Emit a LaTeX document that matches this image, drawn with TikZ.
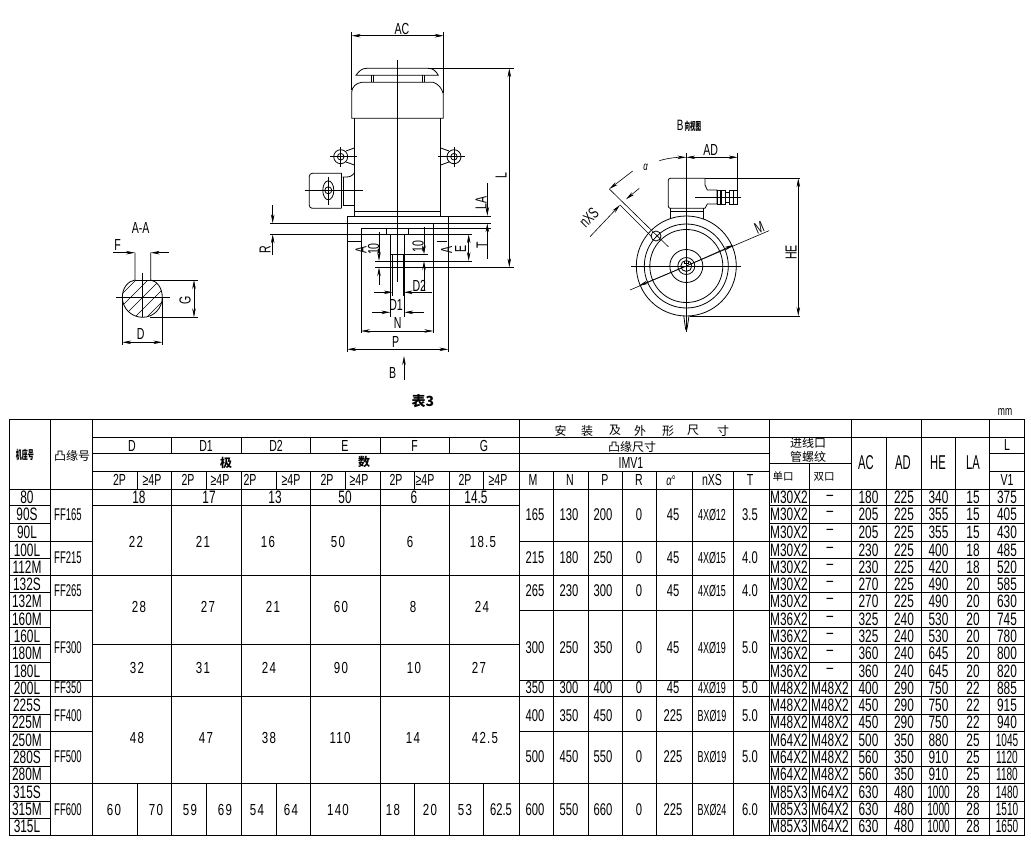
\documentclass[tikz,border=0pt]{standalone}
\usepackage{fontspec}
\usetikzlibrary{arrows.meta}
\newfontfamily\cadfont[FakeStretch=0.66]{Liberation Sans}
\newfontfamily\cadnarrow[FakeStretch=0.56]{Liberation Sans}
\newfontfamily\cadwide[FakeStretch=0.72,LetterSpace=8]{Liberation Sans}
\newfontfamily\cjkfont{Noto Sans CJK SC}
\newfontfamily\cjkthin[FakeStretch=0.5]{Noto Sans CJK SC}
\tikzset{
  ln/.style = {line width=0.8pt},
  thin ln/.style = {line width=0.6pt},
  dim/.style = {line width=0.6pt, {Stealth[length=9pt,width=3.5pt]}-{Stealth[length=9pt,width=3.5pt]}},
  tip/.style = {line width=0.6pt, -{Stealth[length=9pt,width=3.5pt]}},
  tall/.style = {inner sep=0pt, font=\cadfont\fontsize{18}{18}\selectfont},
  mid/.style = {inner sep=0pt, font=\cadfont\fontsize{17}{17}\selectfont},
  flange/.style = {inner sep=0pt, font=\cadnarrow\fontsize{17}{17}\selectfont},
  holes/.style = {inner sep=0pt, font=\cadnarrow\fontsize{16}{16}\selectfont},
  big/.style = {inner sep=0pt, font=\cadwide\fontsize{16}{16}\selectfont},
  lab/.style = {inner sep=0pt, font=\cadfont\fontsize{16}{16}\selectfont},
  cjk/.style = {inner sep=0pt, font=\cjkfont\fontsize{12}{12}\selectfont},
  squeezed/.style = {inner sep=0pt, font=\cjkthin\bfseries\fontsize{12}{12}\selectfont},
}
\begin{document}
\begin{tikzpicture}[x=1pt,y=-1pt]
  \fill[white] (0,0) rectangle (1031,843);
  \useasboundingbox (0,0) rectangle (1031,843);

  % section A-A
  \node[lab] (secttl) at (140.7,228) {A-A};
  \begin{scope}
    \clip (135,280) .. controls (128,281) and (122.3,288) .. (122.3,297.3) .. controls (122.3,308) and (131,317.3) .. (142.7,317.3) .. controls (154,317.3) and (162.3,308) .. (162.3,297.3) .. controls (162.3,288) and (157,281) .. (150.7,280) -- cycle;
    \foreach \s in {416,428,...,476}
      \draw[thin ln] (\s-330,330) -- (\s-270,270);
  \end{scope}
  \draw[ln] (135,252.7) -- (135,280) .. controls (128,281) and (122.3,288) .. (122.3,297.3) .. controls (122.3,308) and (131,317.3) .. (142.7,317.3) .. controls (154,317.3) and (162.3,308) .. (162.3,297.3) .. controls (162.3,288) and (157,281) .. (150.7,280) -- (150.7,252.7);
  \draw[ln] (135,280) -- (150.7,280);
  \draw[thin ln] (116,297.3) -- (170,297.3);
  \draw[thin ln] (142.7,273.3) -- (142.7,317.3);
  \draw[tip] (113.3,252.7) -- (135,252.7);
  \draw[tip] (169,252.7) -- (150.7,252.7);
  \node[lab] (secf) at (117.7,245) {F};
  \draw[thin ln] (150,280) -- (198.3,280);
  \draw[thin ln] (150,317.3) -- (198.3,317.3);
  \draw[dim] (194,280) -- (194,317.3);
  \node[lab,rotate=90] (secg) at (185,300) {G};
  \draw[thin ln] (122.3,297.3) -- (122.3,345);
  \draw[thin ln] (162.3,297.3) -- (162.3,345);
  \draw[dim] (122.3,342.3) -- (162.3,342.3);
  \node[lab] (secd) at (140.7,334) {D};

  % front view: fan cap and frame
  \draw[thin ln] (351.7,32) -- (351.7,90);
  \draw[thin ln] (443.7,32) -- (443.7,93);
  \draw[dim] (351.7,35.7) -- (443.7,35.7);
  \node[lab] (acfront) at (402,29) {AC};
  \draw[thin ln] (397.3,60) -- (397.3,281.7);
  \draw[ln] (356,75.3) .. controls (359,71) and (362,68.3) .. (366.7,68.3) -- (428.3,68.3) .. controls (433,68.3) and (436,71) .. (438.3,75.3) -- cycle;
  \draw[ln] (371,75.3) -- (371,82.3) (373.3,75.3) -- (373.3,82.3);
  \draw[ln] (422.3,75.3) -- (422.3,82.3) (424.7,75.3) -- (424.7,82.3);
  \draw[ln] (351.7,118.3) -- (351.7,92) .. controls (352,87) and (356,83) .. (361.7,82.3) -- (433.3,82.3) .. controls (438,84) and (442,88) .. (443.3,94) -- (443.3,118.3) -- cycle;
  \draw[ln] (354.3,118.3) -- (354.3,216);
  \draw[ln] (440.7,118.3) -- (440.7,216);
  \draw[ln] (354.3,211.7) -- (440.7,211.7);

  % front view: lifting eyes
  \foreach \ex/\ea/\eb in {340.7/330/356.7, 454/438/465} {
    \draw[ln] (\ex,156.7) circle[radius=7];
    \draw[ln] (\ex,156.7) circle[radius=3.3];
    \draw[thin ln] (\ea,156.7) -- (\eb,156.7);
    \draw[thin ln] (\ex,147) -- (\ex,166.7);
  }
  \draw[ln] (346,151) -- (354.3,148) (346,162) -- (354.3,165);
  \draw[ln] (449,151) -- (440.7,148) (449,162) -- (440.7,165);

  % front view: terminal box
  \draw[ln,rounded corners=3pt] (341.7,173.3) -- (309.3,173.3) -- (309.3,208.3) -- (341.7,208.3);
  \draw[ln] (341.7,173.3) -- (341.7,208.3);
  \draw[ln] (342.7,177) -- (346,177) .. controls (350,177) and (352,176) .. (354.3,173);
  \draw[ln] (342.7,205) -- (354.3,205);
  \draw[ln] (343.5,177) -- (343.5,205);
  \draw[thin ln] (305,190.3) -- (363.3,190.3);
  \draw[thin ln] (328.3,176.7) -- (328.3,205);
  \draw[ln] (328.3,190.3) ellipse[x radius=5.5, y radius=9.5];
  \draw[ln] (328.3,190.3) circle[radius=3.5];

  % front view: flange and shaft
  \draw[ln] (347.3,216) -- (490.7,216);
  \draw[ln] (347.3,216) -- (347.3,351.7);
  \draw[ln] (448.3,216) -- (448.3,351.7);
  \draw[ln] (270,223.3) -- (490.7,223.3);
  \draw[ln] (361,228.3) -- (490.7,228.3);
  \draw[ln] (270,234.3) -- (471.7,234.3);
  \draw[ln] (347.3,241.7) -- (361,241.7);
  \draw[ln] (436.7,241.7) -- (446.7,241.7);
  \draw[ln] (361,228.3) -- (361,333);
  \draw[ln] (433.3,223.3) -- (433.3,333);
  \draw[ln] (386,228.3) -- (386,234.3) (408.3,228.3) -- (408.3,234.3);
  \draw[ln] (390.3,234.3) -- (390.3,316.7);
  \draw[ln] (404.3,234.3) -- (404.3,316.7);
  \draw[ln] (390.3,254.3) -- (427.7,254.3);
  \draw[ln] (392.7,254.3) -- (392.7,296);
  \draw[line width=1.2pt] (403.3,254.3) -- (403.3,296);
  \draw[ln] (375,261) -- (471.7,261);
  \draw[ln] (375,267.3) -- (514,267.3);

  % front view: dimensions
  \draw[thin ln] (428.3,68.3) -- (514,68.3);
  \draw[dim] (509.3,68.3) -- (509.3,267.3);
  \node[lab,rotate=90] (lfront) at (501,176) {L};
  \draw[tip] (487.3,183) -- (487.3,216);
  \draw[tip] (487.3,259) -- (487.3,223.3);
  \node[lab,rotate=90] (lafront) at (481,203) {LA};
  \node[lab,rotate=90] (tfront) at (482,245) {T};
  \draw[tip] (272.7,205) -- (272.7,223.3);
  \draw[tip] (272.7,255) -- (272.7,234.3);
  \node[lab,rotate=90] (rfront) at (265,250) {R};
  \node[lab,rotate=90] (asecl) at (361,250) {A};
  \node[lab,rotate=90] (asecr) at (446.7,250) {A};
  \draw[tip] (379,231.7) -- (379,261);
  \draw[tip] (379,285) -- (379,267.3);
  \node[lab,rotate=90] (tenl) at (373.5,249) {10};
  \draw[tip] (424,226.7) -- (424,254.3);
  \draw[tip] (424,290) -- (424,261);
  \node[lab,rotate=90] (tenr) at (418,246.7) {10};
  \draw[dim] (468.7,234.3) -- (468.7,261);
  \node[lab,rotate=90] (efront) at (460.7,249.3) {E};
  \draw[tip] (374,292.3) -- (392.7,292.3);
  \draw[tip] (431.7,292.3) -- (403.7,292.3);
  \node[lab] (dtwo) at (419.3,285.7) {D2};
  \draw[tip] (372,312.3) -- (390.3,312.3);
  \draw[tip] (423.7,312.3) -- (404.3,312.3);
  \node[lab] (done) at (396,305) {D1};
  \draw[dim] (361,331) -- (433.3,331);
  \node[lab] (nfront) at (397.7,323.3) {N};
  \draw[dim] (347.3,349.3) -- (448.3,349.3);
  \node[lab] (pfront) at (395.7,341.7) {P};
  \draw[tip] (404,380) -- (404,356);
  \node[lab] (bfront) at (392.7,373.3) {B};
  \node[cjk,font=\cjkfont\bfseries\fontsize{14}{14}\selectfont] (tabttl) at (423,400.7) {表3};

  % view B
  \node[inner sep=0pt] (bview) at (689,125.7) {\cadfont\fontsize{15}{15}\selectfont B\hspace{1pt}\cjkthin\bfseries\fontsize{11}{11}\selectfont 向视图};
  \foreach \r in {50,42,36.5,16.5,8.5,5.5}
    \draw[ln] (686.3,266) circle[radius=\r];
  \draw[ln] (684,260.5) -- (684,263) -- (688.6,263) -- (688.6,260.5);
  \draw[thin ln] (686.3,153.3) -- (686.3,331.7);
  \draw[thin ln] (631,266) -- (741,266);
  \draw[ln] (683.8,316) -- (685.3,327) .. controls (685.7,331) and (686.9,331) .. (687.3,327) -- (689,316);
  \draw[ln,rounded corners=2pt] (705,178.3) -- (668.3,178.3) -- (668.3,208.3) -- (705,208.3);
  \draw[ln] (705,178.3) -- (705,185) -- (707.3,190) -- (717,190) -- (717,204) -- (707.3,204) -- (705,208.3);
  \draw[ln] (670,208.3) -- (670,219) (703.3,208.3) -- (703.3,219);
  \draw[ln] (670,211) -- (703.3,211);
  \foreach \gx/\gw in {717/3.7,721/4.3,729/4,733/4.5}
    \draw[thin ln] (\gx,190) rectangle ++(\gw,14);
  \draw[thin ln] (725.3,192) -- (729,192) (725.3,202) -- (729,202);
  \draw[thin ln] (695,197.3) -- (740.7,197.3);
  \draw[thin ln] (705,178.3) -- (800,178.3);
  \draw[thin ln] (690,316) -- (800,316);
  \draw[dim] (798.3,178.3) -- (798.3,316);
  \node[lab,rotate=90] (heview) at (791,252.3) {HE};
  \draw[thin ln] (737.7,152.7) -- (737.7,197);
  \draw[dim] (686.3,157.3) -- (737.7,157.3);
  \node[lab] (adview) at (710.7,150) {AD};
  \draw[tip] (659.3,160.7) .. controls (668,158) and (677,157.3) .. (686.3,157.3);
  \node[inner sep=0pt,font=\cadfont\fontsize{12}{12}\selectfont\itshape] (alview) at (645.7,167.3) {α};
  \draw[thin ln] (630,290) -- (769,230.7);
  \draw[tip] (686.3,266) -- (733.3,245);
  \draw[tip] (686.3,266) -- (639,285.7);
  \node[lab,rotate=23] (mview) at (759.3,227.3) {M};
  \draw[ln] (656,236) circle[radius=5];
  \draw[thin ln] (609.3,189) -- (668.3,246.7);
  \draw[thin ln] (620,205) -- (652,237);
  \draw[tip] (590,236.7) -- (620,205);
  \draw[tip] (639.3,188.3) -- (626,199.3);
  \draw[tip] (632.7,171) -- (609.3,189);
  \node[lab,rotate=45] (nxsview) at (589,218) {nXS};

  % table grid
  \draw[ln] (9.5,419.5) rectangle (1024.5,835);
  \draw[ln] (92.5,437.5) -- (1024.5,437.5);
  \draw[ln] (92.5,453.5) -- (769,453.5) (989.7,453.5) -- (1024.5,453.5);
  \draw[ln] (92.5,471.5) -- (769,471.5) (989.7,471.5) -- (1024.5,471.5);
  \draw[ln] (769,463.3) -- (851.3,463.3);
  \draw[ln] (9.5,489) -- (1024.5,489);
  \foreach \y in {505.5,523,541,558.5,575.5,592.5,610,627.5,644.5,662,680,696,714,731,749,766,783,801,818} {
    \draw[ln] (9.5,\y) -- (50.5,\y);
    \draw[ln] (769,\y) -- (1024.5,\y);
  }
  \foreach \y in {541,575.5,610,680,696,731,783}
    \draw[ln] (50.5,\y) -- (92.5,\y);
  \foreach \y in {505.5,575.5,644.5,696,783}
    \draw[ln] (92.5,\y) -- (519.3,\y);
  \foreach \y in {541,575.5,610,680,696,731,783}
    \draw[ln] (519.3,\y) -- (769,\y);
  \foreach \x in {50.5,92.5,519.3,769,851.3,921.3,989.7}
    \draw[ln] (\x,419.5) -- (\x,835);
  \foreach \x in {886.3,955.7}
    \draw[ln] (\x,437.5) -- (\x,835);
  \draw[ln] (809.3,463.3) -- (809.3,835);
  \foreach \x in {171.5,241.5,310.7,380.3,449.3} {
    \draw[ln] (\x,437.5) -- (\x,453.5);
    \draw[ln] (\x,471.5) -- (\x,835);
  }
  \foreach \x in {137.5,206.5,276.5,345,414.5,483.3}
    \draw[ln] (\x,471.5) -- (\x,489);
  \foreach \x in {137.5,206.5,276.5,414.5,483.3}
    \draw[ln] (\x,783) -- (\x,835);
  \foreach \x in {553.3,588.3,622.3,656.3,692.7,733.7}
    \draw[ln] (\x,471.5) -- (\x,835);

  % table header
  \node[cjk,font=\cadfont\fontsize{13}{13}\selectfont] (unit) at (1005,412) {mm};
  \node[squeezed] (hframe) at (25,455) {机座号};
  \node[cjk] (hflange) at (72,456) {凸缘号};
  \foreach \x/\t in {132/D,206/D1,276/D2,345/E,414.5/F,484/G}
    \node[lab] (h\t) at (\x,445.5) {\t};
  \node[cjk,font=\cjkfont\bfseries\fontsize{12}{12}\selectfont] (hji) at (226,463) {极};
  \node[cjk,font=\cjkfont\bfseries\fontsize{12}{12}\selectfont] (hshu) at (364,462) {数};
  \foreach \x/\t [count=\i] in {119.5/2P,152/≥4P,188/2P,220/≥4P,250/2P,291/≥4P,327/2P,359/≥4P,396/2P,425/≥4P,465/2P,498/≥4P}
    \node[lab] (pole\i) at (\x,480) {\t};
  \foreach \x/\t [count=\i] in {560.7/安,587/装,615/及,640/外,668/形,693/尺,723/寸}
    \node[cjk] (size\i) at (\x,430.6) {\t};
  \node[cjk] (hflsize) at (632,447) {凸缘尺寸};
  \node[lab] (himv) at (631,462.7) {IMV1};
  \foreach \x/\t in {533/M,570/N,605/P,639/R,712/nXS,750/T}
    \node[lab] (c\t) at (\x,480) {\t};
  \node[lab,font=\cadfont\fontsize{14}{14}\selectfont] (calpha) at (671,481) {\textit{α}°};
  \node[cjk] (hinlet) at (808,443) {进线口};
  \node[cjk] (hthread) at (808,457) {管螺纹};
  \node[cjk,font=\cjkfont\fontsize{10.5}{11}\selectfont] (hsingle) at (783,477) {单口};
  \node[cjk,font=\cjkfont\fontsize{10.5}{11}\selectfont] (hdouble) at (824,477) {双口};
  \foreach \x/\t in {866/AC,903/AD,938/HE,973/LA}
    \node[lab,font=\cadnarrow\fontsize{20}{20}\selectfont] (t\t) at (\x,463) {\t};
  \node[lab] (tl) at (1007,445) {L};
  \node[lab] (tv) at (1007,480) {V1};

  % table flange numbers and mounting sizes
  \foreach \y/\fl/\m/\n/\p/\al/\xs/\t [count=\i] in {
    515/FF165/165/130/200/45/4XØ12/3.5,
    558/FF215/215/180/250/45/4XØ15/4.0,
    591/FF265/265/230/300/45/4XØ15/4.0,
    648/FF300/300/250/350/45/4XØ19/5.0,
    716/FF400/400/350/450/225/BXØ19/5.0,
    757/FF500/500/450/550/225/BXØ19/5.0,
    810/FF600/600/550/660/225/BXØ24/6.0} {
    \node[flange] (fl\i) at (68,\y) {\fl};
    \node[mid] (m\i) at (535,\y) {\m};
    \node[mid] (n\i) at (569,\y) {\n};
    \node[mid] (p\i) at (603,\y) {\p};
    \node[mid] (r\i) at (639,\y) {0};
    \node[mid] (a\i) at (673,\y) {\al};
    \node[holes] (x\i) at (712,\y) {\xs};
    \node[mid] (t\i) at (750,\y) {\t};
  }
  \node[flange] (flx) at (68,688) {FF350};
  \foreach \x/\t in {535/350,569/300,603/400,639/0,673/45,750/5.0}
    \node[mid] (s\t) at (\x,688) {\t};
  \node[holes] (sxs) at (712,688) {4XØ19};

  % table shaft sizes
  \foreach \x/\t [count=\i] in {139/18,209/17,275/13,345/50,414/6,476/14.5}
    \node[tall] (top\i) at (\x,497.5) {\t};
  \foreach \x/\y/\t [count=\i] in {
    136/541.7/22,203/541.7/21,268/541.7/16,338/541.7/50,410/541.7/6,483/541.7/18.5,
    139/606.7/28,208/606.7/27,273/606.7/21,341/606.7/60,413/606.7/8,482/606.7/24,
    137/668/32,203/668/31,269/668/24,341/668/90,414/668/10,479/668/27,
    137/738/48,206/738/47,269/738/38,340/738/110,413/738/14,485/738/42.5,
    114/810/60,156/810/70,190/810/59,225/810/69,257/810/54,291/810/64,338/810/140,
    393/810/18,430/810/20,465/810/53}
    \node[big] (sh\i) at (\x,\y) {\t};
  \node[mid] (shlast) at (501,810) {62.5};

  % table rows
  \foreach \y/\nm/\pa/\pb/\ac/\ad/\he/\la/\vone in {
    497.5/80/M30X2/–/180/225/340/15/375,
    514/90S/M30X2/–/205/225/355/15/405,
    532/90L/M30X2/–/205/225/355/15/430,
    550/100L/M30X2/–/230/225/400/18/485,
    567/112M/M30X2/–/230/225/420/18/520,
    584/132S/M30X2/–/270/225/490/20/585,
    601/132M/M30X2/–/270/225/490/20/630,
    619/160M/M36X2/–/325/240/530/20/745,
    636/160L/M36X2/–/325/240/530/20/780,
    653/180M/M36X2/–/360/240/645/20/800,
    671/180L/M36X2/–/360/240/645/20/820,
    688/200L/M48X2/M48X2/400/290/750/22/885,
    705/225S/M48X2/M48X2/450/290/750/22/915,
    722.5/225M/M48X2/M48X2/450/290/750/22/940,
    740/250M/M64X2/M48X2/500/350/880/25/{\cadnarrow 1045},
    757.5/280S/M64X2/M48X2/560/350/910/25/{\cadnarrow 1120},
    774.5/280M/M64X2/M48X2/560/350/910/25/{\cadnarrow 1180},
    792/315S/M85X3/M64X2/630/480/{\cadnarrow 1000}/28/{\cadnarrow 1480},
    809.5/315M/M85X3/M64X2/630/480/{\cadnarrow 1000}/28/{\cadnarrow 1510},
    826.5/315L/M85X3/M64X2/630/480/{\cadnarrow 1000}/28/{\cadnarrow 1650}} {
    \node[tall] (fr\nm) at (27,\y) {\nm};
    \node[tall] (pa\nm) at (789,\y) {\pa};
    \node[tall] (pb\nm) at (830,\y) {\pb};
    \node[tall] (ac\nm) at (868.5,\y) {\ac};
    \node[tall] (ad\nm) at (904,\y) {\ad};
    \node[tall] (he\nm) at (938.5,\y) {\he};
    \node[tall] (la\nm) at (973,\y) {\la};
    \node[tall] (vo\nm) at (1007,\y) {\vone};
  }
\end{tikzpicture}
\end{document}
